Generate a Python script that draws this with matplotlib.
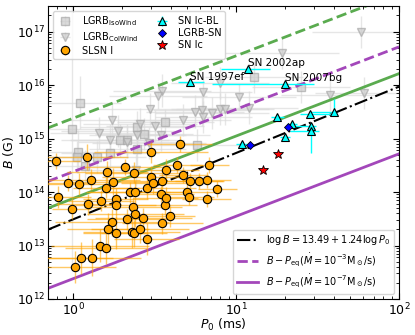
import numpy as np
import matplotlib
matplotlib.use("Agg")
import matplotlib.pyplot as plt

# SLSN I: P0 (ms), B (G), errors in dex
slsn_p = [0.78, 0.81, 0.93, 1.09, 0.98, 1.22, 1.28, 1.24, 1.62, 1.48,
          1.76, 1.59, 2.08, 2.37, 2.99, 4.50, 4.35, 3.00, 3.49, 3.72,
          2.84, 3.11, 2.22, 2.40, 1.82, 1.82, 2.32, 3.47, 3.64, 3.94,
          4.75, 5.22, 5.93, 6.59, 4.96, 5.16, 6.61, 6.86, 7.68, 3.52,
          2.41, 2.15, 2.70, 1.74, 1.63, 1.82, 2.28, 2.36, 2.58, 2.82,
          1.46, 1.59, 1.11, 1.31, 1.03, 3.69]
slsn_b = [3.8e14, 8.0e13, 1.5e14, 1.4e14, 4.9e13, 4.5e14, 1.7e14, 5.9e13, 2.4e14, 6.9e13,
          1.55e14, 1.2e14, 2.9e14, 2.3e14, 5.5e14, 7.9e14, 3.2e14, 1.9e14, 1.6e14, 2.6e14,
          1.18e14, 1.45e14, 9.9e13, 1.02e14, 7.5e13, 5.6e13, 5.2e13, 9.1e13, 5.8e13, 3.5e13,
          2.1e14, 1.6e14, 1.6e14, 1.66e14, 1.02e14, 8.2e13, 7.4e13, 3.2e14, 1.15e14, 2.6e13,
          3.9e13, 3.1e13, 3.2e13, 2.7e13, 2.0e13, 1.7e13, 1.8e13, 1.7e13, 2.0e13, 1.3e13,
          1.0e13, 9.0e12, 5.9e12, 5.9e12, 4.0e12, 7.7e13]
slsn_xe = [0.15, 0.2, 0.15, 0.2, 0.12, 0.25, 0.3, 0.2, 0.25, 0.2,
           0.3, 0.2, 0.25, 0.3, 0.35, 0.2, 0.15, 0.3, 0.25, 0.2,
           0.3, 0.2, 0.25, 0.3, 0.2, 0.25, 0.3, 0.2, 0.2, 0.15,
           0.15, 0.2, 0.15, 0.15, 0.2, 0.15, 0.15, 0.12, 0.12, 0.25,
           0.3, 0.25, 0.3, 0.35, 0.25, 0.2, 0.3, 0.2, 0.3, 0.2,
           0.3, 0.25, 0.2, 0.3, 0.25, 0.2]
slsn_ye = [0.15, 0.2, 0.15, 0.2, 0.2, 0.25, 0.2, 0.2, 0.2, 0.2,
           0.25, 0.2, 0.15, 0.2, 0.2, 0.15, 0.15, 0.2, 0.2, 0.2,
           0.2, 0.2, 0.2, 0.2, 0.2, 0.25, 0.2, 0.15, 0.2, 0.2,
           0.15, 0.15, 0.15, 0.15, 0.15, 0.15, 0.15, 0.15, 0.15, 0.2,
           0.25, 0.2, 0.2, 0.25, 0.3, 0.3, 0.3, 0.25, 0.25, 0.3,
           0.3, 0.3, 0.3, 0.35, 0.3, 0.2]

# LGRB isotropic wind (squares)
iso_p = [1.10, 0.98, 2.45, 3.68, 2.71, 1.93, 2.13, 2.48, 1.69, 1.07,
         1.06, 1.18, 1.40, 5.74, 12.9, 24.9]
iso_b = [4.7e15, 1.5e15, 1.64e15, 2.0e15, 1.23e15, 9.2e14, 9.5e14, 6.4e14, 5.3e14, 5.7e14,
         4.6e14, 3.0e14, 4.5e14, 7.7e14, 1.42e16, 9.1e15]
iso_xe = [0.25, 0.3, 0.35, 0.3, 0.3, 0.3, 0.35, 0.3, 0.3, 0.3,
          0.25, 0.3, 0.3, 0.35, 0.3, 0.3]
iso_ye = [0.5, 2.5, 0.3, 0.25, 0.3, 0.3, 0.3, 0.3, 0.3, 0.4,
          0.3, 0.3, 0.3, 0.3, 0.3, 0.3]

# LGRB collimated wind (down triangles)
col_p = [58.6, 19.2, 7.98, 6.28, 10.4, 12.0, 37.7, 61.0, 3.52, 3.32,
         2.98, 1.73, 2.58, 3.17, 1.44, 1.87, 2.48, 3.48, 1.68, 2.14,
         2.91, 4.69, 5.60, 6.16, 7.16, 7.98, 8.57, 6.30, 2.44]
col_b = [1.0e17, 4.0e16, 1.09e16, 7.3e15, 6.0e15, 3.8e15, 6.6e15, 7.1e15, 7.9e15, 6.3e15,
         3.5e15, 2.2e15, 1.9e15, 1.74e15, 1.26e15, 1.36e15, 1.18e15, 1.18e15, 9.2e14, 8.7e14,
         8.2e14, 2.2e15, 3.2e15, 3.4e15, 3.0e15, 3.6e15, 3.5e15, 2.5e15, 2.6e14]
col_xe = [0.3, 0.35, 0.3, 0.3, 0.35, 0.3, 0.3, 0.3, 0.3, 0.3,
          0.35, 0.3, 0.35, 0.3, 0.3, 0.35, 0.3, 0.3, 0.3, 0.3,
          0.35, 0.3, 0.3, 0.3, 0.35, 0.3, 0.3, 0.3, 0.3]
col_ye = [0.3, 0.3, 0.3, 0.3, 0.25, 0.3, 0.3, 0.3, 0.3, 0.25,
          0.3, 0.3, 0.3, 0.3, 0.3, 0.3, 0.3, 0.3, 0.3, 0.3,
          0.3, 0.3, 0.3, 0.3, 0.3, 0.3, 0.3, 0.3, 0.3]

# SN Ic-BL (cyan triangles)
icbl_p = [5.19, 11.9, 20.0, 17.9, 28.4, 39.9, 22.0, 20.0, 28.8, 28.8, 10.9]
icbl_b = [1.13e16, 2.0e16, 1.05e16, 2.5e15, 2.9e15, 3.1e15, 1.9e15, 1.09e15, 1.69e15, 1.37e15, 7.9e14]
icbl_xlo = [0.07, 0.17, 0.45, 0.04, 0.06, 0.15, 0.03, 0.03, 0.1, 0.13, 0.04]
icbl_xhi = [0.09, 0.13, 0.18, 0.04, 0.14, 0.0, 0.03, 0.03, 0.03, 0.05, 0.03]
icbl_ylo = [0.0, 0.0, 0.0, 0.0, 0.0, 0.0, 0.0, 0.0, 0.0, 0.4, 0.0]
icbl_yhi = [0.0, 0.0, 0.0, 0.0, 0.0, 0.25, 0.0, 0.0, 0.0, 0.0, 0.0]
icbl_names = {0: "SN 1997ef", 1: "SN 2002ap", 2: "SN 2007bg"}

# LGRB-SN (blue diamonds), SN Ic (red stars)
grbsn_p = [12.2, 20.7]
grbsn_b = [7.7e14, 1.66e15]
ic_p = [18.0, 14.7]
ic_b = [5.1e14, 2.6e14]

# fit and equilibrium lines
fit_a, fit_k = 13.49, 1.24
eq_c = 15.88          # log B at P=1 ms, Mdot=1 Msun/s
mdot_purple = [1e-3, 1e-7]
mdot_green = [1e-1, 1e-4]

GREEN = "#5aab4f"
PURPLE = "#a347ba"


def dex_err(vals, lo, hi):
    v = np.asarray(vals, float)
    lo = np.asarray(lo, float); hi = np.asarray(hi, float)
    return np.vstack([v - v / 10**lo, v * 10**hi - v])


fig = plt.figure(figsize=(4.15, 3.35), dpi=100)
ax = fig.add_axes([0.1157, 0.1075, 0.8457, 0.8745])
ax.set_xscale("log"); ax.set_yscale("log")

h_iso = ax.errorbar(iso_p, iso_b, xerr=dex_err(iso_p, iso_xe, iso_xe), yerr=dex_err(iso_b, iso_ye, iso_ye),
                    fmt="s", ms=6, mfc="#cccccc", mec="#a8a8a8", ecolor="#dcdcdc", elinewidth=1.0,
                    alpha=0.7, zorder=1, label=r"LGRB$_{\rm IsoWind}$")
h_col = ax.errorbar(col_p, col_b, xerr=dex_err(col_p, col_xe, col_xe), yerr=dex_err(col_b, col_ye, col_ye),
                    fmt="v", ms=6, mfc="#cccccc", mec="#a8a8a8", ecolor="#dcdcdc", elinewidth=1.0,
                    alpha=0.7, zorder=1, label=r"LGRB$_{\rm ColWind}$")

P = np.logspace(np.log10(0.7), 2, 200)
l_fit, = ax.plot(P, 10**(fit_a + fit_k * np.log10(P)), color="k", ls="-.", lw=1.5, zorder=2,
                 label=r"$\log B=13.49+1.24\log P_0$")
l_p3, = ax.plot(P, 10**(eq_c + 0.5 * np.log10(mdot_purple[0]) + 7 / 6 * np.log10(P)),
                color=PURPLE, ls="--", lw=2, zorder=2,
                label=r"$B-P_{\rm eq}(\dot{M}=10^{-3}{\rm M_\odot/s})$")
l_p7, = ax.plot(P, 10**(eq_c + 0.5 * np.log10(mdot_purple[1]) + 7 / 6 * np.log10(P)),
                color=PURPLE, ls="-", lw=2, zorder=2,
                label=r"$B-P_{\rm eq}(\dot{M}=10^{-7}{\rm M_\odot/s})$")
ax.plot(P, 10**(eq_c + 0.5 * np.log10(mdot_green[0]) + 7 / 6 * np.log10(P)),
        color=GREEN, ls="--", lw=2, zorder=2)
ax.plot(P, 10**(eq_c + 0.5 * np.log10(mdot_green[1]) + 7 / 6 * np.log10(P)),
        color=GREEN, ls="-", lw=2, zorder=2)

h_slsn = ax.errorbar(slsn_p, slsn_b, xerr=dex_err(slsn_p, slsn_xe, slsn_xe),
                     yerr=dex_err(slsn_b, slsn_ye, slsn_ye),
                     fmt="o", ms=6, mfc="orange", mec="k", mew=0.8, ecolor="orange",
                     elinewidth=1.0, zorder=3, label="SLSN I")
for bar in h_slsn[2]:
    bar.set_alpha(0.6)

h_icbl = ax.errorbar(icbl_p, icbl_b, xerr=dex_err(icbl_p, icbl_xlo, icbl_xhi),
                     yerr=dex_err(icbl_b, icbl_ylo, icbl_yhi),
                     fmt="^", ms=6, mfc="cyan", mec="k", mew=0.8, ecolor="cyan",
                     elinewidth=1.0, zorder=4, label="SN Ic-BL")
h_grbsn = ax.errorbar(grbsn_p, grbsn_b, fmt="D", ms=4.5, mfc="blue", mec="k", mew=0.6,
                      ecolor="blue", zorder=4, label="LGRB-SN")
h_ic = ax.errorbar(ic_p, ic_b, fmt="*", ms=7, mfc="red", mec="k", mew=0.6,
                   ecolor="red", zorder=4, label="SN Ic")

for i, name in icbl_names.items():
    ax.text(icbl_p[i], icbl_b[i] * 1.02, name, fontsize=7.5, ha="left", va="bottom", zorder=5)

ax.set_xlim(0.7, 100)
ax.set_ylim(1e12, 3e17)
ax.set_xlabel(r"$P_0$ (ms)", fontsize=9)
ax.set_ylabel(r"$B$ (G)", fontsize=9)
ax.xaxis.set_label_coords(0.5, -0.062)
ax.yaxis.set_label_coords(-0.092, 0.5)
ax.tick_params(which="both", direction="in", top=True, right=True, labelsize=9)
ax.tick_params(which="major", length=4, pad=2)
ax.tick_params(which="minor", length=2)

leg1 = ax.legend([h_iso, h_col, h_slsn, h_icbl, h_grbsn, h_ic],
                 [h.get_label() for h in [h_iso, h_col, h_slsn, h_icbl, h_grbsn, h_ic]],
                 loc="upper left", ncol=2, fontsize=7, handletextpad=0.8, columnspacing=1.6,
                 borderpad=0.35, labelspacing=0.2, handlelength=1.8)
ax.add_artist(leg1)
ax.legend(handles=[l_fit, l_p3, l_p7], loc="lower right", fontsize=7,
          handlelength=2.2, labelspacing=0.4, borderpad=0.4)

fig.savefig("out.png", dpi=100)
